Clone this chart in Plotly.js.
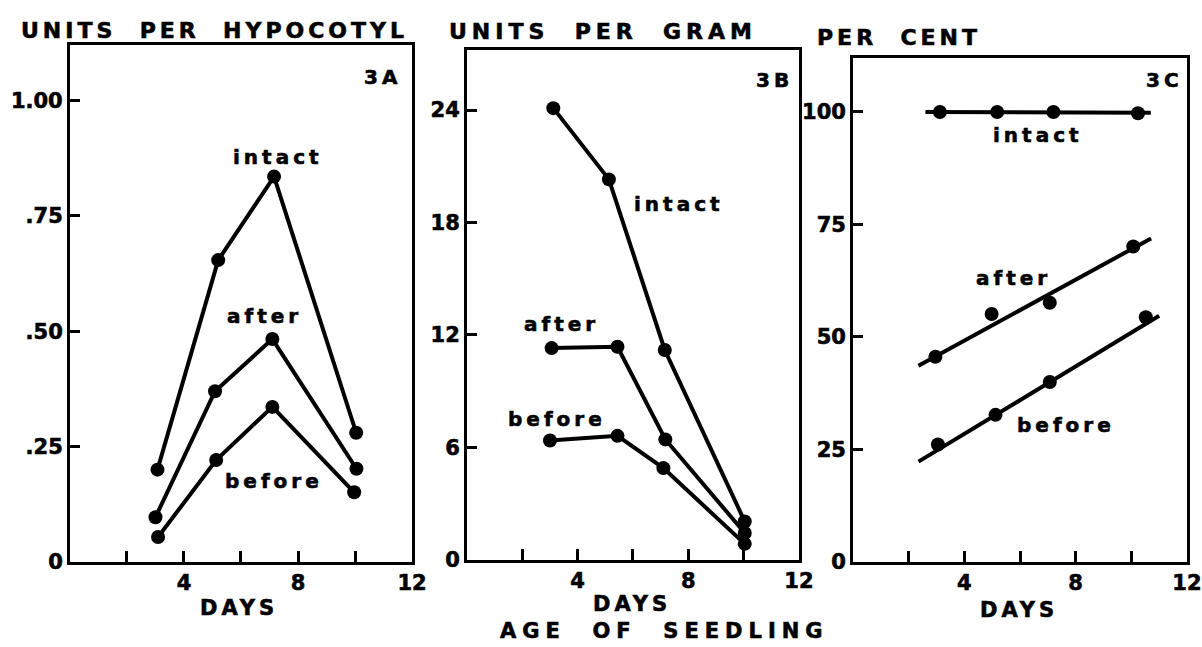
<!DOCTYPE html>
<html>
<head>
<meta charset="utf-8">
<script src="https://cdn.plot.ly/plotly-3.0.1.min.js"></script>
<style>
html,body{margin:0;padding:0;background:#fff;}
#chart{width:1202px;height:647px;}
.main-svg text{font-weight:bold !important;stroke:#000;stroke-width:0.6px;}
.annotation-text{letter-spacing:4px;}
.annotation[data-index="1"] .annotation-text{letter-spacing:5px;}
.annotation[data-index="6"] .annotation-text{letter-spacing:6px;}
</style>
</head>
<body>
<div id="chart"></div>
<script>
// ---- Data ----
// Panel 3A: units per hypocotyl
const aDaysIntact = [3.07, 5.2, 7.16, 10.04];
const aIntact     = [0.20, 0.654, 0.835, 0.28];
const aDaysAfter  = [3.0, 5.09, 7.1, 10.05];
const aAfter      = [0.097, 0.37, 0.483, 0.202];
const aDaysBefore = [3.09, 5.13, 7.1, 9.97];
const aBefore     = [0.054, 0.221, 0.336, 0.151];

// Panel 3B: units per gram
const bDaysIntact = [3.12, 5.13, 7.15, 10.04];
const bIntact     = [24.1, 20.3, 11.2, 2.05];
const bDaysAfter  = [3.06, 5.44, 7.17, 10.04];
const bAfter      = [11.3, 11.37, 6.43, 1.44];
const bDaysBefore = [3.0, 5.44, 7.1, 10.04];
const bBefore     = [6.37, 6.62, 4.9, 0.86];

// Panel 3C: per cent
const cDaysIntact = [3.12, 5.18, 7.2, 10.24];
const cIntact     = [100, 100, 100, 99.7];
const cIntactLineX = [2.6, 10.7];
const cIntactLineY = [100, 99.8];
const cDaysAfter  = [2.96, 4.98, 7.07, 10.07];
const cAfter      = [45.6, 55.1, 57.6, 70.1];
const cAfterLineX = [2.35, 10.71];
const cAfterLineY = [43.6, 71.9];
const cDaysBefore = [3.05, 5.12, 7.07, 10.52];
const cBefore     = [26.1, 32.7, 40.0, 54.4];
const cBeforeLineX = [2.35, 11.0];
const cBeforeLineY = [22.3, 54.7];

// Axis ticks
const xTickVals = [2, 4, 6, 8, 10, 12];
const xTickText = ['', '4', '', '8', '', '12'];
const aTickVals = [0, 0.25, 0.5, 0.75, 1.0];
const aTickText = ['0', '.25', '.50', '.75', '1.00'];
const bTickVals = [0, 6, 12, 18, 24];
const bTickText = ['0', '6', '12', '18', '24'];
const cTickVals = [0, 25, 50, 75, 100];
const cTickText = ['0', '25', '50', '75', '100'];

// ---- Styling ----
const FONT = 'DejaVu Sans, Arial, sans-serif';
const INK = '#000';

function lineTrace(x, y, xa, ya) {
  return {x, y, xaxis: xa, yaxis: ya, type: 'scatter', mode: 'lines+markers',
    line: {color: INK, width: 4}, marker: {color: INK, size: 14}, hoverinfo: 'skip', showlegend: false};
}
function pointTrace(x, y, xa, ya) {
  return {x, y, xaxis: xa, yaxis: ya, type: 'scatter', mode: 'markers',
    marker: {color: INK, size: 14}, hoverinfo: 'skip', showlegend: false};
}
function fitTrace(x, y, xa, ya) {
  return {x, y, xaxis: xa, yaxis: ya, type: 'scatter', mode: 'lines',
    line: {color: INK, width: 4}, hoverinfo: 'skip', showlegend: false};
}

const traces = [
  lineTrace(aDaysIntact, aIntact, 'x', 'y'),
  lineTrace(aDaysAfter, aAfter, 'x', 'y'),
  lineTrace(aDaysBefore, aBefore, 'x', 'y'),
  lineTrace(bDaysIntact, bIntact, 'x2', 'y2'),
  lineTrace(bDaysAfter, bAfter, 'x2', 'y2'),
  lineTrace(bDaysBefore, bBefore, 'x2', 'y2'),
  fitTrace(cIntactLineX, cIntactLineY, 'x3', 'y3'),
  pointTrace(cDaysIntact, cIntact, 'x3', 'y3'),
  fitTrace(cAfterLineX, cAfterLineY, 'x3', 'y3'),
  pointTrace(cDaysAfter, cAfter, 'x3', 'y3'),
  fitTrace(cBeforeLineX, cBeforeLineY, 'x3', 'y3'),
  pointTrace(cDaysBefore, cBefore, 'x3', 'y3')
];

const tickFont = {family: FONT, size: 21, color: INK, weight: 700};

function xAxis(domain, anchor) {
  return {domain, anchor, range: [0, 12], tickvals: xTickVals, ticktext: xTickText,
    ticks: 'inside', ticklen: 11, tickwidth: 3, tickcolor: INK,
    showline: true, linewidth: 3, linecolor: INK, mirror: true,
    showgrid: false, zeroline: false, tickfont: tickFont, fixedrange: true};
}
function yAxis(domain, anchor, range, vals, text) {
  return {domain, anchor, range, tickvals: vals, ticktext: text,
    ticks: 'inside', ticklen: 10, tickwidth: 3, tickcolor: INK,
    showline: true, linewidth: 3, linecolor: INK, mirror: true,
    showgrid: false, zeroline: false, tickfont: tickFont, fixedrange: true};
}

function label(text, x, y, xref, yref, size) {
  return {text, x, y, xref, yref, showarrow: false, xanchor: 'center', yanchor: 'middle',
    font: {family: FONT, size: size || 20, color: INK, weight: 700}};
}
const NB = '\u00A0\u00A0';

const layout = {
  width: 1202, height: 647,
  margin: {l: 0, r: 0, t: 0, b: 0},
  paper_bgcolor: '#fff', plot_bgcolor: '#fff',
  showlegend: false,
  xaxis: xAxis([0.0582, 0.3428], 'y'),
  yaxis: yAxis([0.1314, 0.9304], 'x', [0, 1.12], aTickVals, aTickText),
  xaxis2: xAxis([0.3885, 0.6647], 'y2'),
  yaxis2: yAxis([0.1345, 0.9227], 'x2', [0, 27.2], bTickVals, bTickText),
  xaxis3: xAxis([0.7097, 0.9875], 'y3'),
  yaxis3: yAxis([0.1314, 0.9104], 'x3', [0, 112], cTickVals, cTickText),
  annotations: [
    label('UNITS' + NB + 'PER' + NB + 'HYPOCOTYL', 214 / 1202, 1 - 30 / 647, 'paper', 'paper', 22),
    label('UNITS' + NB + 'PER' + NB + 'GRAM', 603 / 1202, 1 - 32 / 647, 'paper', 'paper', 22),
    label('PER' + NB + 'CENT', 899 / 1202, 1 - 38 / 647, 'paper', 'paper', 22),
    label('DAYS', 239 / 1202, 1 - 608 / 647, 'paper', 'paper', 21),
    label('DAYS', 632 / 1202, 1 - 604 / 647, 'paper', 'paper', 21),
    label('DAYS', 1019 / 1202, 1 - 610 / 647, 'paper', 'paper', 21),
    label('AGE' + NB + 'OF' + NB + 'SEEDLING', 664 / 1202, 1 - 631 / 647, 'paper', 'paper', 21),
    label('3A', 10.97, 1.05, 'x', 'y', 20),
    label('intact', 7.3, 0.877, 'x', 'y'),
    label('after', 6.84, 0.534, 'x', 'y'),
    label('before', 7.17, 0.176, 'x', 'y'),
    label('3B', 11.1, 25.6, 'x2', 'y2', 20),
    label('intact', 7.66, 18.97, 'x2', 'y2'),
    label('after', 3.41, 12.6, 'x2', 'y2'),
    label('before', 3.27, 7.5, 'x2', 'y2'),
    label('3C', 11.2, 107, 'x3', 'y3', 20),
    label('intact', 6.66, 94.8, 'x3', 'y3'),
    label('after', 5.77, 63.0, 'x3', 'y3'),
    label('before', 7.66, 30.5, 'x3', 'y3')
  ]
};

Plotly.newPlot('chart', traces, layout, {staticPlot: true, displayModeBar: false});
</script>
</body>
</html>
